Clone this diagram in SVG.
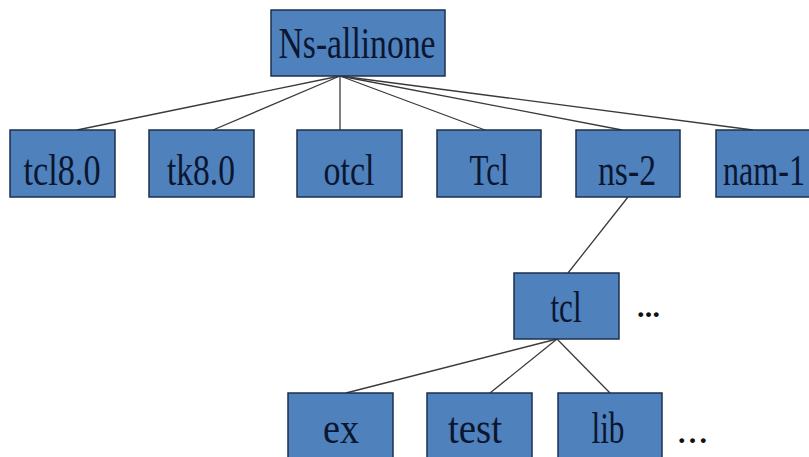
<svg xmlns="http://www.w3.org/2000/svg" width="809" height="457" viewBox="0 0 809 457">
<style>
.box{fill:#4f81bd;stroke:#1c2f4f;stroke-width:1.5}
.lbl{font-size:44px;fill:#0b1630;text-anchor:middle}
.dots{font-size:30px;font-weight:bold;fill:#111}
.con line{stroke:#3a3a3a;stroke-width:1.3}
</style>
<rect width="809" height="457" fill="#ffffff"/>
<g id="connectors" class="con">
<line x1="340" y1="76" x2="77" y2="130"/>
<line x1="340" y1="76" x2="213" y2="130"/>
<line x1="340" y1="76" x2="340" y2="130"/>
<line x1="340" y1="76" x2="485" y2="130"/>
<line x1="340" y1="76" x2="622" y2="130"/>
<line x1="340" y1="76" x2="753" y2="130"/>
<line x1="628" y1="197" x2="568" y2="273"/>
<line x1="557" y1="339" x2="346" y2="393"/>
<line x1="557" y1="339" x2="490" y2="393"/>
<line x1="557" y1="339" x2="610" y2="393"/>
</g>
<g font-family="'Liberation Serif', 'DejaVu Serif', serif">
<g id="root"><rect class="box" x="271" y="10" width="174" height="66"/><text class="lbl" x="357" y="58" textLength="157" lengthAdjust="spacingAndGlyphs">Ns-allinone</text></g>
<g id="tcl80"><rect class="box" x="10" y="130" width="105" height="67"/><text class="lbl" x="62" y="185" textLength="77" lengthAdjust="spacingAndGlyphs">tcl8.0</text></g>
<g id="tk80"><rect class="box" x="149" y="130" width="105" height="67"/><text class="lbl" x="201" y="185" textLength="68" lengthAdjust="spacingAndGlyphs">tk8.0</text></g>
<g id="otcl"><rect class="box" x="297" y="130" width="105" height="67"/><text class="lbl" x="349" y="185" textLength="51" lengthAdjust="spacingAndGlyphs">otcl</text></g>
<g id="Tcl"><rect class="box" x="437" y="130" width="104" height="67"/><text class="lbl" x="489" y="185" textLength="39" lengthAdjust="spacingAndGlyphs">Tcl</text></g>
<g id="ns2"><rect class="box" x="576" y="130" width="104" height="67"/><text class="lbl" x="627" y="185" textLength="58" lengthAdjust="spacingAndGlyphs">ns-2</text></g>
<g id="nam1"><rect class="box" x="716" y="130" width="105" height="67"/><text class="lbl" x="764" y="185" textLength="82" lengthAdjust="spacingAndGlyphs">nam-1</text></g>
<g id="tcl"><rect class="box" x="514" y="273" width="105" height="66"/><text class="lbl" x="566" y="322" textLength="31" lengthAdjust="spacingAndGlyphs">tcl</text></g>
<g id="dots1"><text class="dots" x="637" y="317" textLength="23" lengthAdjust="spacing">...</text></g>
<g id="ex"><rect class="box" x="288" y="393" width="105" height="70"/><text class="lbl" x="341" y="443" textLength="36" lengthAdjust="spacingAndGlyphs">ex</text></g>
<g id="test"><rect class="box" x="427" y="393" width="105" height="70"/><text class="lbl" x="475" y="443" textLength="54" lengthAdjust="spacingAndGlyphs">test</text></g>
<g id="lib"><rect class="box" x="558" y="393" width="104" height="70"/><text class="lbl" x="608" y="443" textLength="33" lengthAdjust="spacingAndGlyphs">lib</text></g>
<g id="dots2"><text class="dots" x="678" y="443" textLength="29" lengthAdjust="spacing">...</text></g>
</g>
</svg>
